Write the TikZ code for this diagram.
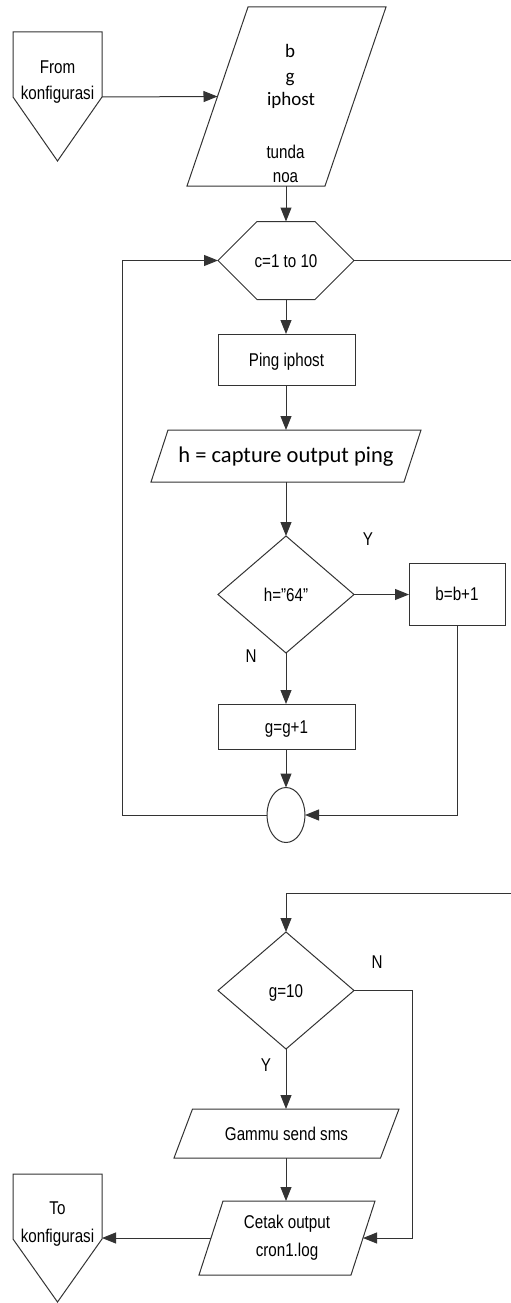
\documentclass[tikz,border=0pt]{standalone}
\usepackage{fontspec}
\setmainfont{Liberation Sans}
\newfontfamily\narrowsans[FakeStretch=0.82]{Liberation Sans}
\newfontfamily\calfont{Carlito}
\usetikzlibrary{shapes.geometric,shapes.misc,arrows.meta,calc}

% outline of an input/output box: node name, horizontal slant
\newcommand\ioshape[2]{\draw[ln] (#1.south west) -- ($(#1.north west)+(#2,0)$)
  -- (#1.north east) -- ($(#1.south east)-(#2,0)$) -- cycle;}

\begin{document}
\begin{tikzpicture}[x=1pt,y=-1pt,
  every node/.style={inner sep=0pt, outer sep=0pt},
  ln/.style={draw=black!80, line width=1pt},
  arr/.style={ln, -{Triangle[length=14pt,width=11pt]}},
  lbl/.style={font=\narrowsans\fontsize{18.5}{26}\selectfont, text=black},
  one/.style={lbl, text height=15pt, text depth=2pt},
  procbox/.style={ln, rectangle, one},
  decbox/.style={ln, diamond, one, minimum width=136, minimum height=117},
  iobox/.style={rectangle},
  calsmall/.style={font=\calfont\fontsize{19}{24}\selectfont, text=black},
  calbig/.style={font=\calfont\fontsize{22.5}{27}\selectfont, text=black, text height=15pt, text depth=2pt},
]
\useasboundingbox (0,0) rectangle (511,1303);

% ---- off-page connector: entry ----
\node[minimum width=89, minimum height=65] (fromc) at (57.5,64.5) {};
\coordinate (fromtip) at (57.5,161);
\draw[ln] (fromc.south west) -- (fromc.north west) -- (fromc.north east)
  -- (fromc.south east) -- (fromtip) -- cycle;
\node[lbl, align=center] (fromtxt) at (57.5,82.25) {From\\konfigurasi};

% ---- input of the variables ----
\node[iobox, minimum width=199, minimum height=179] (inp) at (286.5,96.5) {};
\ioshape{inp}{61}
\node[calsmall, anchor=base] (vb) at (290,58) {b};
\node[calsmall, anchor=base] (vg) at (290,83) {g};
\node[calsmall, anchor=base] (vip) at (291,106) {iphost};
\node[lbl, anchor=base] (vtd) at (285.5,158) {tunda};
\node[lbl, anchor=base] (vno) at (285.5,182) {noa};

% ---- loop header ----
\node[ln, chamfered rectangle, chamfered rectangle xsep=28pt,
  chamfered rectangle ysep=30.5pt, minimum width=136, minimum height=61,
  one] (loop) at (286,260.5) {c=1 to 10};

\node[procbox, minimum width=137, minimum height=51] (ping) at (286.5,359.5) {Ping iphost};
\node[iobox, minimum width=270, minimum height=52, calbig] (cap) at (286,456) {h = capture output ping};
\ioshape{cap}{17}
\node[decbox] (dec1) at (286,594.5) {h=”64”};
\node[procbox, minimum width=96, minimum height=62] (bb) at (457,594) {b=b+1};
\node[procbox, minimum width=137, minimum height=45] (gg) at (286.5,726.5) {g=g+1};
\node[ln, ellipse, minimum width=38, minimum height=55] (join) at (286,815) {};

\node[lbl] (y1) at (368,539.5) {Y};
\node[lbl] (n1) at (251,656) {N};

% ---- after the loop ----
\node[decbox] (dec2) at (286,990.5) {g=10};
\node[lbl] (n2) at (377,962.5) {N};
\node[lbl] (y2) at (266,1065) {Y};
\node[iobox, minimum width=225, minimum height=49, one] (sms) at (286.5,1133.5) {Gammu send sms};
\ioshape{sms}{18.5}
\node[iobox, minimum width=176, minimum height=74, lbl, align=center,
  font=\narrowsans\fontsize{18.5}{28}\selectfont] (cetak) at (287,1238) {Cetak output\\cron1.log};
\ioshape{cetak}{24}

% ---- off-page connector: exit ----
\node[minimum width=89, minimum height=65] (toc) at (57.5,1206.5) {};
\coordinate (totip) at (57.5,1302);
\draw[ln] (toc.south west) -- (toc.north west) -- (toc.north east)
  -- (toc.south east) -- (totip) -- cycle;
\node[lbl, align=center, font=\narrowsans\fontsize{18.5}{28}\selectfont] (totxt) at (57.5,1224.25) {To\\konfigurasi};

% ---- connectors ----
\coordinate (lcorner) at (122,815);
\coordinate (rtop) at (515,260.5);
\coordinate (rbot) at (515,893);
\coordinate (ncorner) at (412,990.5);

\draw[arr] (fromc.south east) -- ($(inp.west)+(30.5,0)$);
\draw[arr] (inp.south -| loop.north) -- (loop.north);
\draw[arr] (loop.south) -- (ping.north -| loop.south);
\draw[arr] (ping.south -| loop.south) -- (cap.north -| loop.south);
\draw[arr] (cap.south -| dec1.north) -- (dec1.north);
\draw[arr] (dec1.east) -- (bb.west |- dec1.east);
\draw[arr] (dec1.south) -- (gg.north -| dec1.south);
\draw[arr] (gg.south -| join.north) -- (join.north);
\draw[arr] (bb.south) |- (join.east);
\draw[arr] (join.west) -- (lcorner) |- (loop.west);
\draw[arr] (loop.east) -- (rtop) -- (rbot) -| (dec2.north);
\draw[arr] (dec2.south) -- (sms.north -| dec2.south);
\draw[arr] (sms.south -| dec2.south) -- (cetak.north -| dec2.south);
\draw[arr] (dec2.east) -- (ncorner) |- ($(cetak.east)-(12,0)$);
\draw[arr] ($(cetak.west)+(12,0)$) -- (toc.south east |- cetak.west);
\end{tikzpicture}
\end{document}
